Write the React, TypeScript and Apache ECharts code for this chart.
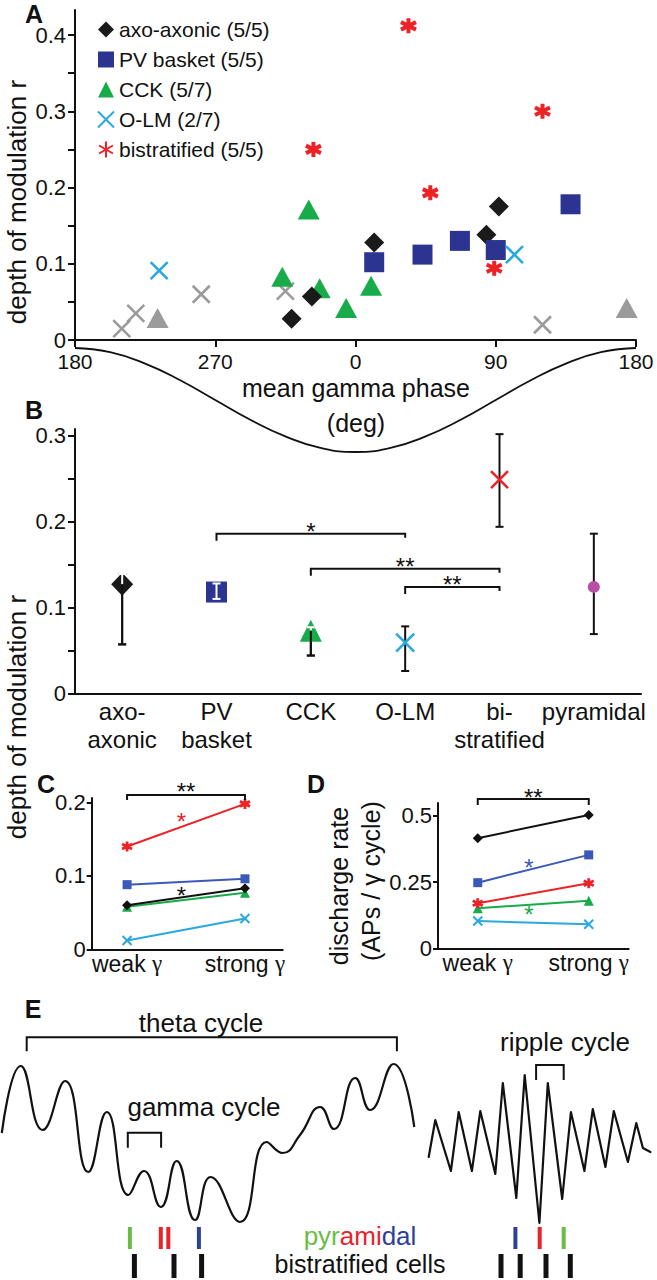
import React, { useEffect, useRef } from 'react';
import * as echarts from 'echarts';

const FONT = "'Liberation Sans', Arial, Helvetica, sans-serif";
const INK = '#111111';

// ---------------- Panel A: mean gamma phase vs depth of modulation ----------------
const PHASE_TICKS = [-180, -90, 0, 90, 180];
const PHASE_TICK_LABELS = ['180', '270', '0', '90', '180'];
const R_LABELS_A = [0, 0.1, 0.2, 0.3, 0.4];
const R_TICKS_A = [0, 0.05, 0.1, 0.15, 0.2, 0.25, 0.3, 0.35, 0.4];

const A_AXO_PHASE = [-41, -28, 12, 84, 92];
const A_AXO_R = [0.028, 0.057, 0.128, 0.138, 0.175];
const A_PV_PHASE = [12, 43, 67, 90, 138];
const A_PV_R = [0.102, 0.112, 0.13, 0.118, 0.178];
const A_CCK_PHASE = [-47, -30, -23, -6, 10];
const A_CCK_R = [0.083, 0.171, 0.068, 0.042, 0.071];
const A_CCK_NS_PHASE = [-127, 174];
const A_CCK_NS_R = [0.029, 0.042];
const A_OLM_PHASE = [-126, 102];
const A_OLM_R = [0.091, 0.112];
const A_OLM_NS_PHASE = [-150, -141, -99, -45, 120];
const A_OLM_NS_R = [0.015, 0.035, 0.06, 0.064, 0.02];
const A_BIS_PHASE = [-27, 34, 48, 89, 120];
const A_BIS_R = [0.25, 0.412, 0.193, 0.094, 0.3];

const LEGEND_NAMES = ['axo-axonic (5/5)', 'PV basket (5/5)', 'CCK (5/7)', 'O-LM (2/7)', 'bistratified (5/5)'];

// reference gamma cycle drawn under the phase axis (0 = peak, 1 = trough)
const COS_PHASE = [-180, -157.5, -135, -112.5, -90, -67.5, -45, -22.5, 0, 22.5, 45, 67.5, 90, 112.5, 135, 157.5, 180];
const COS_DEPTH = [0, 0.04, 0.15, 0.31, 0.5, 0.69, 0.85, 0.96, 1, 0.96, 0.85, 0.69, 0.5, 0.31, 0.15, 0.04, 0];

// ---------------- Panel B: population means ----------------
const B_CATS = ['axo-\naxonic', 'PV\nbasket', 'CCK', 'O-LM', 'bi-\nstratified', 'pyramidal'];
const B_MEAN = [0.127, 0.118, 0.073, 0.059, 0.249, 0.124];
const B_LOW = [0.057, 0.11, 0.044, 0.026, 0.194, 0.069];
const B_HIGH = [0.139, 0.128, 0.077, 0.078, 0.302, 0.186];
const R_LABELS_B = [0, 0.1, 0.2, 0.3];
const R_TICKS_B = [0, 0.05, 0.1, 0.15, 0.2, 0.25, 0.3];
const B_SIG_FROM = [1, 2, 3];
const B_SIG_TO = [3, 4, 4];
const B_SIG_LEVEL = [0.186, 0.145, 0.124];
const B_SIG_TEXT = ['*', '**', '**'];

// ---------------- Panels C & D: weak vs strong gamma ----------------
const GAMMA_LEVELS = ['weak', 'strong'];
const C_RED = [0.14, 0.198];
const C_BLUE = [0.088, 0.096];
const C_BLACK = [0.06, 0.083];
const C_GREEN = [0.058, 0.077];
const C_CYAN = [0.012, 0.042];
const C_LABELS = [0, 0.1, 0.2];
const C_SIG_LEVEL = 0.21;

const D_BLACK = [0.416, 0.504];
const D_BLUE = [0.248, 0.353];
const D_RED = [0.17, 0.246];
const D_GREEN = [0.151, 0.18];
const D_CYAN = [0.103, 0.091];
const D_LABELS = [0, 0.25, 0.5];
const D_SIG_LEVEL = 0.564;

// ---------------- Panel E: schematic traces (time in ms, amplitude in mV) ----------------
const THETA_T = [0.6, 6.9, 14.2, 21.7, 29.4, 35.6, 42.8, 48, 53.6, 58.9, 65, 70.2, 80, 88.9, 94.2, 100, 106.7, 111.3, 118.4, 123.4, 131.2, 138.1];
const THETA_V = [0.17, 0.84, 0.2, 0.69, -0.22, 0.38, -0.45, -0.21, -0.57, -0.11, -0.7, -0.27, -0.72, 0.08, -0.03, 0.15, 0.43, 0.21, 0.72, 0.4, 0.86, 0.23];
const RIPPLE_T = [142.9, 145.1, 150.3, 152.9, 157.3, 160.1, 165.1, 167.6, 172.1, 174.9, 179.8, 182.6, 187.4, 190.3, 194.8, 197.6, 201.8, 204.6, 209.3, 212.1, 214.3, 216.8];
const RIPPLE_V = [-0.07, 0.3, -0.21, 0.38, -0.21, 0.39, -0.24, 0.67, -0.48, 0.75, -0.73, 0.67, -0.49, 0.38, -0.21, 0.41, -0.17, 0.39, -0.12, 0.27, 0.02, -0.02];
const E_BRACKET_START = [8.9, 42.6, 178.7];
const E_BRACKET_END = [132.3, 53.7, 187.9];
const E_BRACKET_LEVEL = [1.127, 0.173, 0.85];
const PYR_SPIKE_T = [43.3, 53.6, 56.1, 66.3, 171.8, 179.9, 187.9];
const PYR_SPIKE_KIND = ['g', 'r', 'r', 'b', 'b', 'r', 'g'];
const BIS_SPIKE_T = [44.8, 58.0, 67.2, 167.0, 173.4, 182.0, 190.1];

// ---------------- styles ----------------
const C_AXO = '#1a1a1a';
const C_PV = '#2b3591';
const C_CCK = '#17ab4a';
const C_OLM = '#2aa8e0';
const C_BIS = '#ec2227';
const C_GRAY = '#9b9b9b';
const C_PYR = '#b64fa5';
const CD_BLUE = '#3a59b8';
const E_COL: Record<string, string> = { g: '#69bd45', r: '#e8232a', b: '#2e3f9a' };

const X_PATH = 'path://M0,0L10,10M10,0L0,10';
const STAR_PATH = 'path://M5,0L5,10M0.67,2.5L9.33,7.5M0.67,7.5L9.33,2.5';

const B_SYMBOLS = ['diamond', 'rect', 'triangle', X_PATH, X_PATH, 'circle'];
const B_COLORS = [C_AXO, C_PV, C_CCK, C_OLM, C_BIS, C_PYR];
const B_SIZES = [[22, 23], [21, 21], [22, 22], [18, 18], [17, 17], [12, 12]];
const B_STROKE = [0, 0, 0, 2.6, 2.6, 0];

function axisLineStyle() {
  return { show: true, onZero: false, lineStyle: { color: INK, width: 2 } };
}
function ticks(vals: number[], len: number) {
  return { show: true, customValues: vals, length: len, inside: false, lineStyle: { color: INK, width: 2 } };
}
function labels(vals: number[], size: number, margin: number, formatter?: any) {
  const o: any = { show: true, customValues: vals, fontSize: size, margin, color: INK, fontFamily: FONT };
  if (formatter) o.formatter = formatter;
  return o;
}

function txt(text: string, x: number, y: number, size: number, opts: any = {}) {
  const style: any = {
    text,
    fill: opts.fill || INK,
    font: `${opts.bold ? 'bold ' : ''}${size}px ${FONT}`,
    textAlign: 'center',
    textVerticalAlign: 'middle',
    align: 'center',
    verticalAlign: 'middle',
  };
  if (opts.rich) style.rich = opts.rich;
  return { type: 'text', x, y, rotation: opts.rotation || 0, style, z: 100 };
}

function seg(a: number[], b: number[], color: string, cap: number, width = 2) {
  return [
    { type: 'line', shape: { x1: a[0], y1: a[1], x2: b[0], y2: b[1] }, style: { stroke: color, lineWidth: width } },
    { type: 'line', shape: { x1: b[0] - cap, y1: b[1], x2: b[0] + cap, y2: b[1] }, style: { stroke: color, lineWidth: width } },
  ];
}

function bracketSeries(xi: number, starts: number[], ends: number[], levels: number[], texts: string[], tickL: number[], tickR: number[], textDy: number, fontSize: number) {
  return {
    type: 'custom',
    xAxisIndex: xi,
    yAxisIndex: xi,
    clip: false,
    silent: true,
    z: 6,
    encode: { x: [0, 1], y: 2 },
    data: starts.map((s, i) => [s, ends[i], levels[i]]),
    renderItem: (params: any, api: any) => {
      const i = params.dataIndex;
      const p1 = api.coord([api.value(0), api.value(2)]);
      const p2 = api.coord([api.value(1), api.value(2)]);
      const kids: any[] = [
        {
          type: 'polyline',
          shape: { points: [[p1[0], p1[1] + tickL[i]], [p1[0], p1[1]], [p2[0], p2[1]], [p2[0], p2[1] + tickR[i]]] },
          style: { stroke: INK, lineWidth: 2, fill: 'none' },
        },
      ];
      if (texts[i]) {
        kids.push({
          type: 'text',
          x: (p1[0] + p2[0]) / 2,
          y: p1[1] + textDy,
          style: { text: texts[i], fill: INK, font: `${fontSize}px ${FONT}`, textAlign: 'center', textVerticalAlign: 'middle', align: 'center', verticalAlign: 'middle' },
        });
      }
      return { type: 'group', children: kids };
    },
  };
}

function starSeries(xi: number, lines: number[][], colors: string[], dys: number[]) {
  const at = 0.46;
  return {
    type: 'custom',
    xAxisIndex: xi,
    yAxisIndex: xi,
    clip: false,
    silent: true,
    z: 7,
    data: lines.map((l) => [at, l[0] + at * (l[1] - l[0])]),
    renderItem: (params: any, api: any) => {
      const i = params.dataIndex;
      const p = api.coord([api.value(0), api.value(1)]);
      return {
        type: 'text',
        x: p[0],
        y: p[1] + dys[i] + 5,
        style: { text: '*', fill: colors[i], font: `24px ${FONT}`, textAlign: 'center', textVerticalAlign: 'middle', align: 'center', verticalAlign: 'middle' },
      };
    },
  };
}

function lineCD(xi: number, vals: number[], symbol: string, size: number, color: string, stroke = 0) {
  return {
    type: 'line',
    xAxisIndex: xi,
    yAxisIndex: xi,
    data: vals.map((v, i) => [i, v]),
    symbol,
    symbolSize: size,
    showSymbol: true,
    lineStyle: { color, width: 2 },
    itemStyle: { color, borderColor: color, borderWidth: stroke, opacity: 1 },
    z: 4,
  };
}

function scatterA(name: string, ph: number[], r: number[], symbol: string, size: any, color: string, stroke = 0, z = 3) {
  return {
    type: 'scatter',
    name,
    xAxisIndex: 0,
    yAxisIndex: 0,
    data: ph.map((p, i) => [p, r[i]]),
    symbol,
    symbolSize: size,
    itemStyle: { color, borderColor: color, borderWidth: stroke, opacity: 1 },
    z,
  };
}

function gammaAxis(grid: number, min: number, max: number) {
  return {
    type: 'value',
    gridIndex: grid,
    min,
    max,
    axisLine: axisLineStyle(),
    axisTick: { show: false },
    splitLine: { show: false },
    axisLabel: {
      show: true,
      customValues: [0, 1],
      margin: 3,
      formatter: (v: number) => `{t|${GAMMA_LEVELS[Math.round(v)]} }{g|γ}`,
      rich: {
        t: { fontSize: 23, fontFamily: FONT, color: INK },
        g: { fontSize: 23, fontFamily: "'Liberation Serif', 'DejaVu Serif', serif", color: INK },
      },
    },
  };
}

function buildOption(): any {
  const grids = [
    { left: 75, top: 10, width: 561, height: 330 },
    { left: 75, top: 348, width: 561, height: 104 },
    { left: 75, top: 429, width: 566, height: 264.3 },
    { left: 91.7, top: 798, width: 191, height: 151.3 },
    { left: 438, top: 803, width: 190.7, height: 145.3 },
    { left: 0, top: 1060, width: 657, height: 165 },
  ].map((g) => ({ ...g, containLabel: false, outerBoundsMode: 'none', show: false }));

  const xAxis: any[] = [
    {
      type: 'value', gridIndex: 0, min: -180, max: 180,
      axisLine: axisLineStyle(), axisTick: ticks(PHASE_TICKS, 7), splitLine: { show: false },
      axisLabel: labels(PHASE_TICKS, 21, 11, (v: number) => PHASE_TICK_LABELS[PHASE_TICKS.indexOf(v)]),
    },
    { type: 'value', gridIndex: 1, min: -180, max: 180, show: false },
    {
      type: 'category', gridIndex: 2, data: B_CATS, boundaryGap: true,
      axisLine: axisLineStyle(), axisTick: { show: false }, splitLine: { show: false },
      axisLabel: { show: true, interval: 0, fontSize: 24, lineHeight: 28, margin: 4, color: INK, fontFamily: FONT },
    },
    gammaAxis(3, -0.3, 1.32),
    gammaAxis(4, -0.358, 1.36),
    { type: 'value', gridIndex: 5, min: 0, max: 219, show: false },
  ];

  const yAxis: any[] = [
    {
      type: 'value', gridIndex: 0, min: 0, max: 0.4328,
      axisLine: axisLineStyle(), axisTick: ticks(R_TICKS_A, 7), splitLine: { show: false },
      axisLabel: labels(R_LABELS_A, 22, 9),
    },
    { type: 'value', gridIndex: 1, min: 0, max: 1, inverse: true, show: false },
    {
      type: 'value', gridIndex: 2, min: 0, max: 0.308,
      axisLine: axisLineStyle(), axisTick: ticks(R_TICKS_B, 7), splitLine: { show: false },
      axisLabel: labels(R_LABELS_B, 22, 9),
    },
    {
      type: 'value', gridIndex: 3, min: 0, max: 0.206,
      axisLine: axisLineStyle(), axisTick: ticks(C_LABELS, 5), splitLine: { show: false },
      axisLabel: labels(C_LABELS, 22, 6),
    },
    {
      type: 'value', gridIndex: 4, min: 0, max: 0.549,
      axisLine: axisLineStyle(), axisTick: ticks(D_LABELS, 5), splitLine: { show: false },
      axisLabel: labels(D_LABELS, 22, 6),
    },
    { type: 'value', gridIndex: 5, min: -0.75, max: 0.9, show: false },
  ];

  const series: any[] = [
    // ---- A ----
    scatterA('O-LM n.s.', A_OLM_NS_PHASE, A_OLM_NS_R, X_PATH, 17, C_GRAY, 2.6, 2),
    scatterA('CCK n.s.', A_CCK_NS_PHASE, A_CCK_NS_R, 'triangle', [22, 20], C_GRAY, 0, 2),
    scatterA(LEGEND_NAMES[2], A_CCK_PHASE, A_CCK_R, 'triangle', [22, 20], C_CCK, 0, 3),
    scatterA(LEGEND_NAMES[0], A_AXO_PHASE, A_AXO_R, 'diamond', 20, C_AXO, 0, 3),
    scatterA(LEGEND_NAMES[1], A_PV_PHASE, A_PV_R, 'rect', 20, C_PV, 0, 3),
    scatterA(LEGEND_NAMES[3], A_OLM_PHASE, A_OLM_R, X_PATH, 17, C_OLM, 2.6, 4),
    scatterA(LEGEND_NAMES[4], A_BIS_PHASE, A_BIS_R, STAR_PATH, 15, C_BIS, 4, 4),
    {
      type: 'line', xAxisIndex: 1, yAxisIndex: 1, smooth: true, showSymbol: false, silent: true,
      data: COS_PHASE.map((p, i) => [p, COS_DEPTH[i]]),
      lineStyle: { color: INK, width: 1.8 },
    },
    // ---- B ----
    {
      type: 'custom', xAxisIndex: 2, yAxisIndex: 2, silent: true, z: 2,
      encode: { x: 0, y: [1, 2] },
      data: B_MEAN.map((_, i) => [i, B_LOW[i], B_HIGH[i]]),
      renderItem: (params: any, api: any) => {
        const i = params.dataIndex;
        const lo = api.coord([i, B_LOW[i]]);
        const hi = api.coord([i, B_HIGH[i]]);
        const cap = 4;
        return {
          type: 'group',
          children: [
            { type: 'line', shape: { x1: lo[0], y1: lo[1], x2: hi[0], y2: hi[1] }, style: { stroke: INK, lineWidth: 2 } },
            { type: 'line', shape: { x1: lo[0] - cap, y1: lo[1], x2: lo[0] + cap, y2: lo[1] }, style: { stroke: INK, lineWidth: 2 } },
            { type: 'line', shape: { x1: hi[0] - cap, y1: hi[1], x2: hi[0] + cap, y2: hi[1] }, style: { stroke: INK, lineWidth: 2 } },
          ],
        };
      },
    },
    {
      type: 'scatter', xAxisIndex: 2, yAxisIndex: 2, z: 3,
      data: B_MEAN.map((m, i) => ({
        value: [i, m],
        symbol: B_SYMBOLS[i],
        symbolSize: B_SIZES[i],
        itemStyle: { color: B_COLORS[i], borderColor: B_COLORS[i], borderWidth: B_STROKE[i], opacity: 1 },
      })),
      itemStyle: { opacity: 1 },
    },
    {
      type: 'custom', xAxisIndex: 2, yAxisIndex: 2, silent: true, z: 5,
      data: B_MEAN.map((m, i) => [i, m]),
      renderItem: (params: any, api: any) => {
        const i = params.dataIndex;
        const kind = B_SYMBOLS[i];
        if (kind !== 'diamond' && kind !== 'rect' && kind !== 'triangle') return { type: 'group', children: [] };
        const half = B_SIZES[i][1] / 2;
        const m = api.coord([i, B_MEAN[i]]);
        const lo = api.coord([i, B_LOW[i]]);
        const hi = api.coord([i, B_HIGH[i]]);
        const upIn = m[1] - hi[1] < half;
        const loIn = lo[1] - m[1] < half;
        return {
          type: 'group',
          children: [...seg(m, hi, upIn ? '#ffffff' : INK, 4), ...seg(m, lo, loIn ? '#ffffff' : INK, 4)],
        };
      },
    },
    bracketSeries(2, B_SIG_FROM, B_SIG_TO, B_SIG_LEVEL, B_SIG_TEXT, [7, 7, 7], [4, 4, 4], -2, 24),
    // ---- C ----
    lineCD(3, C_CYAN, X_PATH, 9, C_OLM, 2),
    lineCD(3, C_GREEN, 'triangle', 10, C_CCK),
    lineCD(3, C_BLACK, 'diamond', 10, INK),
    lineCD(3, C_BLUE, 'rect', 9, CD_BLUE),
    lineCD(3, C_RED, STAR_PATH, 10, C_BIS, 2.8),
    starSeries(3, [C_RED, C_BLACK], [C_BIS, INK], [-10, -7]),
    bracketSeries(3, [0], [1], [C_SIG_LEVEL], ['**'], [5], [5], -4, 24),
    // ---- D ----
    lineCD(4, D_CYAN, X_PATH, 9, C_OLM, 2),
    lineCD(4, D_GREEN, 'triangle', 10, C_CCK),
    lineCD(4, D_RED, STAR_PATH, 10, C_BIS, 2.8),
    lineCD(4, D_BLUE, 'rect', 9, CD_BLUE),
    lineCD(4, D_BLACK, 'diamond', 10, INK),
    starSeries(4, [D_BLUE, D_GREEN], [CD_BLUE, C_CCK], [-7, 5]),
    bracketSeries(4, [0], [1], [D_SIG_LEVEL], ['**'], [6], [6], -2, 24),
    // ---- E ----
    {
      type: 'line', xAxisIndex: 5, yAxisIndex: 5, smooth: 0.5, showSymbol: false, silent: true,
      data: THETA_T.map((t, i) => [t, THETA_V[i]]),
      lineStyle: { color: INK, width: 2.2 },
    },
    {
      type: 'line', xAxisIndex: 5, yAxisIndex: 5, smooth: false, showSymbol: false, silent: true,
      data: RIPPLE_T.map((t, i) => [t, RIPPLE_V[i]]),
      lineStyle: { color: INK, width: 2.2, join: 'round', cap: 'round' },
    },
    bracketSeries(5, E_BRACKET_START, E_BRACKET_END, E_BRACKET_LEVEL, ['', '', ''], [14, 15, 15], [14, 15, 15], 0, 24),
    {
      type: 'custom', xAxisIndex: 5, yAxisIndex: 5, clip: false, silent: true, z: 6,
      data: [
        ...PYR_SPIKE_T.map((t, i) => [t, 0, i]),
        ...BIS_SPIKE_T.map((t, i) => [t, 1, i]),
      ],
      renderItem: (params: any, api: any) => {
        const row = api.value(1);
        const idx = api.value(2);
        const t = api.value(0);
        const top = api.coord([t, row === 0 ? -0.77 : -1.04]);
        const bot = api.coord([t, row === 0 ? -0.99 : -1.28]);
        const w = row === 0 ? 4 : 5;
        const color = row === 0 ? E_COL[PYR_SPIKE_KIND[idx]] : INK;
        return { type: 'rect', shape: { x: top[0] - w / 2, y: top[1], width: w, height: bot[1] - top[1] }, style: { fill: color } };
      },
    },
  ];

  const graphic: any[] = [
    txt('A', 34, 14, 25, { bold: true }),
    txt('B', 34, 410, 25, { bold: true }),
    txt('C', 46, 784, 25, { bold: true }),
    txt('D', 316, 784, 25, { bold: true }),
    txt('E', 33, 1009, 25, { bold: true }),
    txt('depth of modulation r', 17, 202, 26, { rotation: Math.PI / 2 }),
    txt('mean gamma phase', 356, 388, 25),
    txt('(deg)', 356, 423, 25),
    txt('depth of modulation r', 17, 717, 26, { rotation: Math.PI / 2 }),
    txt('discharge rate', 339, 886, 25, { rotation: Math.PI / 2 }),
    txt('(APs / γ cycle)', 371, 881, 25, { rotation: Math.PI / 2 }),
    txt('theta cycle', 201, 1023, 26),
    txt('gamma cycle', 204, 1107, 26),
    txt('ripple cycle', 565, 1042, 26),
    txt('{g|pyr}{r|ami}{b|dal}', 360, 1236, 26, {
      rich: {
        g: { fill: E_COL.g, color: E_COL.g, fontSize: 26, fontFamily: FONT },
        r: { fill: E_COL.r, color: E_COL.r, fontSize: 26, fontFamily: FONT },
        b: { fill: E_COL.b, color: E_COL.b, fontSize: 26, fontFamily: FONT },
      },
    }),
    txt('bistratified cells', 360, 1264, 25),
  ];

  return {
    animation: false,
    backgroundColor: '#ffffff',
    textStyle: { fontFamily: FONT },
    grid: grids,
    xAxis,
    yAxis,
    legend: {
      show: true,
      data: LEGEND_NAMES,
      orient: 'vertical',
      left: 92,
      top: 14,
      itemWidth: 16,
      itemHeight: 16,
      itemGap: 9,
      selectedMode: false,
      textStyle: { fontSize: 21, color: INK, fontFamily: FONT, lineHeight: 21 },
    },
    series,
    graphic,
  };
}

export default function App() {
  const ref = useRef<HTMLDivElement>(null);
  useEffect(() => {
    const chart = echarts.init(ref.current as HTMLDivElement, null, { renderer: 'svg' });
    chart.setOption(buildOption());
    return () => chart.dispose();
  }, []);
  return (
    <div
      ref={ref}
      style={{ position: 'absolute', left: 0, top: 0, width: 657, height: 1280, background: '#ffffff' }}
    />
  );
}
